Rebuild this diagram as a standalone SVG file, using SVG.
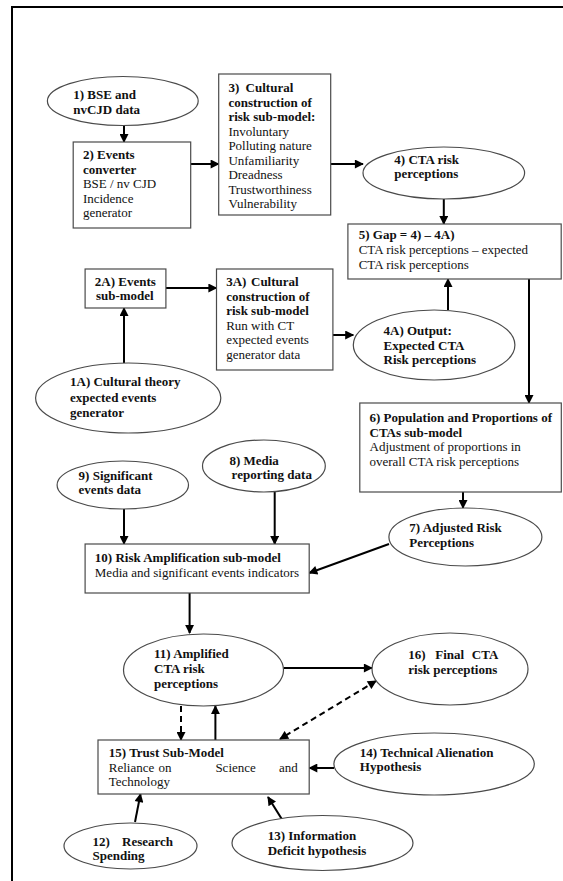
<svg xmlns="http://www.w3.org/2000/svg" width="563" height="881" viewBox="0 0 563 881">
<defs>
<marker id="ah" viewBox="0 0 10 10" refX="9" refY="5" markerWidth="10" markerHeight="9" markerUnits="userSpaceOnUse" orient="auto-start-reverse">
<path d="M0,0 L10,5 L0,10 z" fill="#000"/>
</marker>
<style>
.bx{fill:#fff;stroke:#4a4a4a;stroke-width:1.2}
.el{fill:#fff;stroke:#4a4a4a;stroke-width:1.2}
text{font-family:"Liberation Serif","Times New Roman",serif;font-size:13px;fill:#111}
.b{font-weight:bold}
.ar{stroke:#000;stroke-width:2;fill:none;marker-end:url(#ah)}
.da{stroke:#000;stroke-width:2;fill:none;stroke-dasharray:6,4;marker-end:url(#ah)}
</style>
</defs>
<rect width="563" height="881" fill="#fff"/>
<path d="M12,881 V7 H563" fill="none" stroke="#000" stroke-width="2"/>

<g id="connectors">
<line class="ar" x1="124" y1="126" x2="124" y2="142"/>
<line class="ar" x1="190.7" y1="164" x2="218.7" y2="164"/>
<line class="ar" x1="330.7" y1="164" x2="363" y2="164"/>
<line class="ar" x1="443.8" y1="199" x2="443.8" y2="224"/>
<line class="ar" x1="529" y1="279" x2="529" y2="403"/>
<line class="ar" x1="124" y1="363" x2="124" y2="308"/>
<line class="ar" x1="165.9" y1="288" x2="216.5" y2="288"/>
<line class="ar" x1="332.9" y1="335" x2="353.3" y2="335"/>
<line class="ar" x1="448" y1="310" x2="448" y2="279"/>
<line class="ar" x1="463" y1="492" x2="463" y2="508"/>
<line class="ar" x1="389" y1="544" x2="309.2" y2="573"/>
<line class="ar" x1="124" y1="509" x2="124" y2="544"/>
<line class="ar" x1="274.7" y1="492" x2="274.7" y2="544"/>
<line class="ar" x1="189.6" y1="593" x2="189.6" y2="633"/>
<line class="ar" x1="283.5" y1="668" x2="372" y2="668"/>
<line class="da" x1="181" y1="706" x2="181" y2="740"/>
<line class="ar" x1="215.4" y1="740" x2="215.4" y2="706"/>
<line class="da" x1="376" y1="681" x2="280" y2="739" style="marker-start:url(#ah)"/>
<line class="ar" x1="334" y1="768" x2="309.2" y2="768"/>
<line class="ar" x1="135" y1="822" x2="140.5" y2="794"/>
<line class="ar" x1="283" y1="821" x2="268" y2="797"/>
</g>

<g id="n1">
<ellipse class="el" cx="122.8" cy="101" rx="75.4" ry="24.5"/>
<text class="b" x="73.2" y="99">1) BSE and</text>
<text class="b" x="73.2" y="114">nvCJD data</text>
</g>
<g id="n2">
<rect class="bx" x="73.2" y="142" width="117.5" height="86"/>
<text class="b" x="82.9" y="159">2) Events</text>
<text class="b" x="82.9" y="173.5">converter</text>
<text x="82.9" y="188">BSE / nv CJD</text>
<text x="82.9" y="202.5">Incidence</text>
<text x="82.9" y="217">generator</text>
</g>
<g id="n3">
<rect class="bx" x="218.7" y="74" width="112" height="141"/>
<text class="b" x="228.4" y="92">3)<tspan x="245.6">Cultural</tspan></text>
<text class="b" x="228.4" y="106.5">construction of</text>
<text class="b" x="228.4" y="121">risk sub-model:</text>
<text x="228.4" y="135.5">Involuntary</text>
<text x="228.4" y="150">Polluting nature</text>
<text x="228.4" y="164.5">Unfamiliarity</text>
<text x="228.4" y="179">Dreadness</text>
<text x="228.4" y="193.5">Trustworthiness</text>
<text x="228.4" y="208">Vulnerability</text>
</g>
<g id="n4">
<ellipse class="el" cx="443.8" cy="173" rx="80.8" ry="26"/>
<text class="b" x="394.3" y="164">4) CTA risk</text>
<text class="b" x="394.3" y="178">perceptions</text>
</g>
<g id="n5">
<rect class="bx" x="347.9" y="224" width="213.3" height="55"/>
<text class="b" x="358.7" y="239">5) Gap = 4) – 4A)</text>
<text x="358.7" y="254">CTA risk perceptions – expected</text>
<text x="358.7" y="268.5">CTA risk perceptions</text>
</g>
<g id="n2A">
<rect class="bx" x="85.1" y="269" width="80.8" height="39"/>
<text class="b" x="94.8" y="286">2A) Events</text>
<text class="b" x="95.9" y="300">sub-model</text>
</g>
<g id="n3A">
<rect class="bx" x="216.5" y="269" width="116.4" height="101"/>
<text class="b" x="226.2" y="286">3A)<tspan x="251">Cultural</tspan></text>
<text class="b" x="226.2" y="300.5">construction of</text>
<text class="b" x="226.2" y="315">risk sub-model</text>
<text x="226.2" y="329.5">Run with CT</text>
<text x="226.2" y="344">expected events</text>
<text x="226.2" y="358.5">generator data</text>
</g>
<g id="n4A">
<ellipse class="el" cx="434.1" cy="345" rx="80.8" ry="35"/>
<text class="b" x="383.5" y="335">4A) Output:</text>
<text class="b" x="383.5" y="349.5">Expected CTA</text>
<text class="b" x="383.5" y="364">Risk perceptions</text>
</g>
<g id="n1A">
<ellipse class="el" cx="128.2" cy="398" rx="92.6" ry="35"/>
<text class="b" x="70" y="386">1A) Cultural theory</text>
<text class="b" x="70" y="401.5">expected events</text>
<text class="b" x="70" y="417">generator</text>
</g>
<g id="n6">
<rect class="bx" x="359.8" y="403" width="201.5" height="89"/>
<text class="b" x="369.5" y="422">6) Population and Proportions of</text>
<text class="b" x="369.5" y="436.5">CTAs sub-model</text>
<text x="369.5" y="451">Adjustment of proportions in</text>
<text x="369.5" y="465.5">overall CTA risk perceptions</text>
</g>
<g id="n9">
<ellipse class="el" cx="122.8" cy="485" rx="65.7" ry="24"/>
<text class="b" x="78.6" y="480">9) Significant</text>
<text class="b" x="78.6" y="494">events data</text>
</g>
<g id="n8">
<ellipse class="el" cx="263.9" cy="466" rx="61.4" ry="26"/>
<text class="b" x="229.4" y="465">8) Media</text>
<text class="b" x="231.6" y="479">reporting data</text>
</g>
<g id="n7">
<ellipse class="el" cx="465.4" cy="537" rx="76.5" ry="29"/>
<text class="b" x="409.3" y="532">7) Adjusted Risk</text>
<text class="b" x="409.3" y="547">Perceptions</text>
</g>
<g id="n10">
<rect class="bx" x="85.1" y="544" width="224.1" height="49"/>
<text class="b" x="94.8" y="562">10) Risk Amplification sub-model</text>
<text x="94.8" y="577">Media and significant events indicators</text>
</g>
<g id="n11">
<ellipse class="el" cx="203.5" cy="670" rx="80" ry="36"/>
<text class="b" x="154" y="658">11) Amplified</text>
<text class="b" x="154" y="673">CTA risk</text>
<text class="b" x="154" y="688">perceptions</text>
</g>
<g id="n16">
<ellipse class="el" cx="450" cy="669" rx="78" ry="36"/>
<text class="b" x="408.3" y="659">16)<tspan x="435.2">Final</tspan><tspan x="471.8">CTA</tspan></text>
<text class="b" x="408.3" y="674">risk perceptions</text>
</g>
<g id="n15">
<rect class="bx" x="98" y="740" width="211.2" height="54"/>
<text class="b" x="108.8" y="757">15) Trust Sub-Model</text>
<text x="108.8" y="771.5">Reliance<tspan x="158.4">on</tspan><tspan x="215.4">Science</tspan><tspan x="279">and</tspan></text>
<text x="108.8" y="786">Technology</text>
</g>
<g id="n14">
<ellipse class="el" cx="434.1" cy="764" rx="100.2" ry="31"/>
<text class="b" x="359.8" y="757">14) Technical Alienation</text>
<text class="b" x="359.8" y="771">Hypothesis</text>
</g>
<g id="n12">
<ellipse class="el" cx="130.5" cy="846" rx="66.5" ry="23"/>
<text class="b" x="92.5" y="846">12)<tspan x="122">Research</tspan></text>
<text class="b" x="92.5" y="860">Spending</text>
</g>
<g id="n13">
<ellipse class="el" cx="322.5" cy="843" rx="90.5" ry="27.5"/>
<text class="b" x="267.7" y="840">13) Information</text>
<text class="b" x="267.7" y="855">Deficit hypothesis</text>
</g>
</svg>
